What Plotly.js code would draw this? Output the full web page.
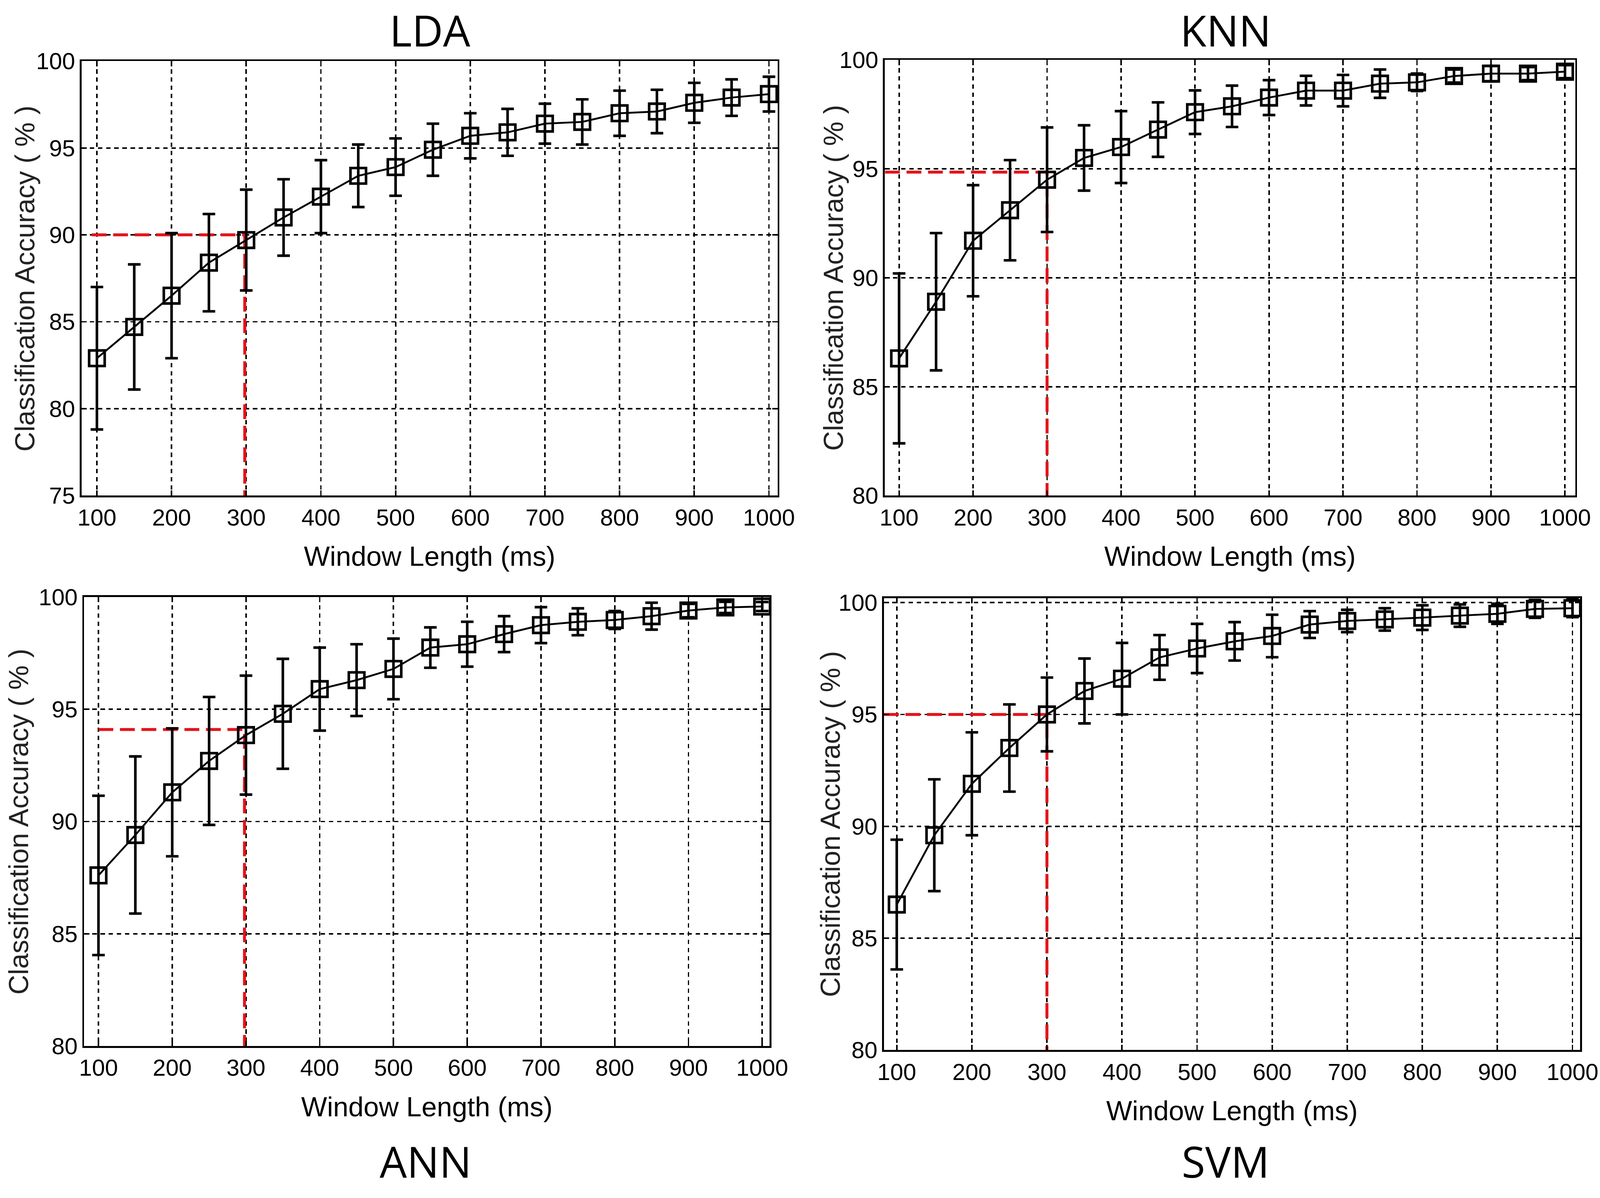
<!DOCTYPE html>
<html>
<head>
<meta charset="utf-8">
<script src="https://cdn.plot.ly/plotly-3.0.1.min.js"></script>
<style>
  html, body { margin: 0; padding: 0; overflow: hidden; background: #ffffff; }
</style>
</head>
<body>
<div id="chart"></div>
<script type="text/javascript">

    /* * Data * */
    var windowLength = [100, 150, 200, 250, 300, 350, 400, 450, 500, 550, 600, 650, 700, 750, 800, 850, 900, 950, 1000];

    var ldaAcc = [82.9, 84.7, 86.5, 88.4, 89.7, 91.0, 92.2, 93.4, 93.9, 94.9, 95.7, 95.9, 96.4, 96.5, 97.0, 97.1, 97.6, 97.9, 98.1];
    var ldaErr = [4.1, 3.6, 3.6, 2.8, 2.9, 2.2, 2.1, 1.8, 1.65, 1.5, 1.3, 1.35, 1.15, 1.3, 1.3, 1.25, 1.15, 1.05, 1.0];

    var knnAcc = [86.3, 88.9, 91.7, 93.1, 94.5, 95.5, 96.0, 96.8, 97.6, 97.87, 98.27, 98.59, 98.59, 98.91, 98.97, 99.26, 99.37, 99.37, 99.46];
    var knnErr = [3.9, 3.15, 2.55, 2.3, 2.4, 1.5, 1.65, 1.25, 1.0, 0.95, 0.8, 0.68, 0.72, 0.65, 0.4, 0.3, 0.35, 0.3, 0.3];

    var annAcc = [87.6, 89.4, 91.3, 92.7, 93.85, 94.8, 95.9, 96.3, 96.8, 97.75, 97.9, 98.35, 98.75, 98.9, 98.98, 99.15, 99.4, 99.54, 99.58];
    var annErr = [3.55, 3.5, 2.85, 2.85, 2.65, 2.45, 1.85, 1.6, 1.35, 0.9, 1.0, 0.8, 0.8, 0.6, 0.4, 0.6, 0.3, 0.25, 0.2];

    var svmAcc = [86.5, 89.6, 91.9, 93.5, 95.0, 96.05, 96.6, 97.55, 97.95, 98.27, 98.51, 99.02, 99.18, 99.25, 99.33, 99.42, 99.5, 99.72, 99.75];
    var svmErr = [2.9, 2.5, 2.3, 1.95, 1.65, 1.45, 1.6, 1.0, 1.1, 0.86, 0.95, 0.6, 0.5, 0.5, 0.55, 0.5, 0.45, 0.4, 0.4];

    /* * Red cut-off lines (LDA, KNN, ANN, SVM) * */
    var cutWindow = [298, 300, 298, 300];
    var cutAcc = [90.0, 94.85, 94.1, 95.0];
    var cutStart = [93, 81, 100, 83];

    var panelNames = ['LDA', 'KNN', 'ANN', 'SVM'];
    var xTitle = 'Window Length (ms)';
    var yTitle = 'Classification Accuracy ( % )';

    /* * Size everything from the real viewport * */
    var W = window.innerWidth || 4317;
    var H = window.innerHeight || 3066;
    var k = W / 4317;
    function px(v) { return v * k; }

    var chart_container = document.getElementById('chart');
    chart_container.style.width = W + 'px';
    chart_container.style.height = H + 'px';

    var tickFont = 'Liberation Sans Narrow, Arial Narrow, Liberation Sans, Arial, sans-serif';
    var yTitleFont = 'Liberation Sans, Arial, sans-serif';
    var headFont = 'Open Sans, Noto Sans, sans-serif';

    // head titles: top row hangs from the page top, bottom row is centred
    var panels = [
        { acc: ldaAcc, err: ldaErr, yr: [75, 100], xr: [79.5, 1011.6],
          xd: [0.051, 0.486], yd: [0.5864, 0.949], tx: 0.2687, ty: 1.0, ta: 'top', yx: 0.0155 },
        { acc: knnAcc, err: knnErr, yr: [80, 100], xr: [80.7, 1013.8],
          xd: [0.553, 0.9845], yd: [0.5863, 0.950], tx: 0.766, ty: 1.0, ta: 'top', yx: 0.521 },
        { acc: annAcc, err: annErr, yr: [80, 100], xr: [80.6, 1010],
          xd: [0.0526, 0.481], yd: [0.1269, 0.5016], tx: 0.266, ty: 0.031, ta: 'middle', yx: 0.0115 },
        { acc: svmAcc, err: svmErr, yr: [80, 100.2], xr: [83, 1010],
          xd: [0.5525, 0.9875], yd: [0.1236, 0.5007], tx: 0.766, ty: 0.031, ta: 'middle', yx: 0.519 }
    ];

    var data = [];
    var layout = {
        width: W,
        height: H,
        autosize: false,
        margin: { l: 0, r: 0, t: 0, b: 0 },
        paper_bgcolor: '#ffffff',
        plot_bgcolor: '#ffffff',
        showlegend: false,
        annotations: []
    };

    for (var i = 0; i < panels.length; i++) {
        var p = panels[i];
        var sfx = (i == 0) ? '' : String(i + 1);
        var xa = 'x' + sfx;
        var ya = 'y' + sfx;

        // red dashed reference line first, so it sits under the curve
        data.push({
            x: [cutStart[i], cutWindow[i], cutWindow[i]],
            y: [cutAcc[i], cutAcc[i], p.yr[0]],
            xaxis: xa, yaxis: ya,
            type: 'scatter',
            mode: 'lines',
            line: { color: '#e3141b', width: px(8), dash: px(40) + 'px,' + px(18) + 'px' },
            hoverinfo: 'skip'
        });

        data.push({
            x: windowLength,
            y: p.acc,
            xaxis: xa, yaxis: ya,
            type: 'scatter',
            mode: 'lines+markers',
            cliponaxis: false,
            line: { color: '#000000', width: px(5) },
            marker: { symbol: 'square-open', size: px(42), color: '#000000', line: { width: px(7), color: '#000000' } },
            error_y: { type: 'data', array: p.err, visible: true, color: '#000000', thickness: px(7), width: px(17) }
        });

        var axisCommon = {
            showline: true, linecolor: '#000000', linewidth: px(5), mirror: 'ticks',
            ticks: 'inside', ticklen: px(14), tickwidth: px(4), tickcolor: '#000000',
            showgrid: true, gridcolor: '#000000', gridwidth: px(4), griddash: px(12) + 'px,' + px(10) + 'px',
            zeroline: false, fixedrange: true,
            tickfont: { family: tickFont, size: px(63), color: '#000000' }
        };

        layout['xaxis' + sfx] = Object.assign({}, axisCommon, {
            domain: p.xd, anchor: ya,
            range: p.xr, tickmode: 'linear', tick0: 100, dtick: 100,
            ticklabelstandoff: px(14),
            title: { text: xTitle, standoff: px(46),
                     font: { family: tickFont, size: px(74), color: '#000000' } }
        });

        layout['yaxis' + sfx] = Object.assign({}, axisCommon, {
            domain: p.yd, anchor: xa,
            range: p.yr, tickmode: 'linear', tick0: 75, dtick: 5,
            ticklabelstandoff: px(3)
        });

        // y axis title placed as a rotated annotation to match the original spacing
        layout.annotations.push({
            text: yTitle,
            xref: 'paper', yref: 'paper',
            x: p.yx, y: (p.yd[0] + p.yd[1]) / 2,
            xanchor: 'center', yanchor: 'middle',
            textangle: -90,
            showarrow: false,
            font: { family: yTitleFont, size: px(74), color: '#222222' }
        });

        layout.annotations.push({
            text: panelNames[i],
            xref: 'paper', yref: 'paper',
            x: p.tx, y: p.ty,
            xanchor: 'center', yanchor: p.ta,
            borderpad: 0,
            showarrow: false,
            font: { family: headFont, size: px(116), color: '#000000' }
        });
    }

    Plotly.newPlot(chart_container, data, layout, { displayModeBar: false, staticPlot: true });

</script>
</body>
</html>
